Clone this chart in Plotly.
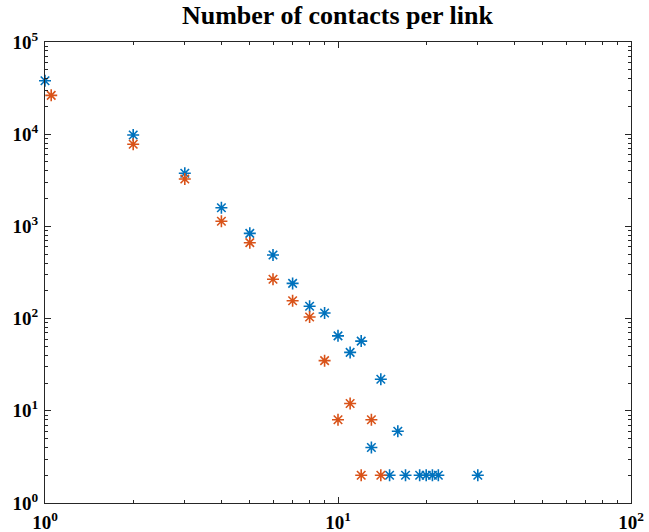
import plotly.graph_objects as go

# Series A (blue)
blue_x = [1, 2, 3, 4, 5, 6, 7, 8, 9, 10, 11, 12, 13, 14, 15, 16, 17, 19, 20, 21, 22, 30]
blue_y = [38000, 9800, 3770, 1595, 841, 490, 241, 136, 115, 65, 43, 57, 4, 22, 2, 6, 2, 2, 2, 2, 2, 2]

# Series B (orange)
orange_x = [1.05, 2, 3, 4, 5, 6, 7, 8, 9, 10, 11, 12, 13, 14]
orange_y = [26400, 7770, 3270, 1136, 666, 267, 156, 104, 35, 8, 12, 2, 8, 2]

title_text = "Number of contacts per link"

# Tick labels (powers of ten)
x_exponents = [0, 1, 2]
y_exponents = [0, 1, 2, 3, 4, 5]
x_tickvals = [10 ** e for e in x_exponents]
x_ticktext = ["10<sup>%d</sup>" % e for e in x_exponents]
y_tickvals = [10 ** e for e in y_exponents]
y_ticktext = ["10<sup>%d</sup>" % e for e in y_exponents]

font_family = "Liberation Serif, Times New Roman, serif"

fig = go.Figure()
fig.add_trace(go.Scatter(
    x=blue_x, y=blue_y, mode="markers", cliponaxis=False,
    marker=dict(symbol="asterisk-open", size=10, color="#0072BD",
                line=dict(color="#0072BD", width=1.6)),
    showlegend=False))
fig.add_trace(go.Scatter(
    x=orange_x, y=orange_y, mode="markers", cliponaxis=False,
    marker=dict(symbol="asterisk-open", size=10, color="#D95319",
                line=dict(color="#D95319", width=1.6)),
    showlegend=False))

axis_common = dict(
    type="log", showgrid=False, zeroline=False, automargin=False,
    showline=True, linecolor="#262626", linewidth=1.2, mirror="ticks",
    ticks="inside", ticklen=6, tickwidth=1, tickcolor="#262626",
    tickfont=dict(family=font_family, size=19, color="#000000", weight="bold"),
    minor=dict(ticks="inside", ticklen=3, tickwidth=1, tickcolor="#262626", dtick="D1"),
)

fig.update_layout(
    width=649, height=532,
    paper_bgcolor="white", plot_bgcolor="white",
    margin=dict(l=45, r=18, t=42, b=29),
    title=dict(text=title_text, x=0.52, xanchor="center", y=0.99, yanchor="top",
               font=dict(family=font_family, size=26, color="#000000", weight="bold")),
    xaxis=dict(range=[0, 2], tickmode="array", tickvals=x_tickvals, ticktext=x_ticktext,
               ticklabelstandoff=2, **axis_common),
    yaxis=dict(range=[0, 5], tickmode="array", tickvals=y_tickvals, ticktext=y_ticktext,
               ticklabelstandoff=2, **axis_common),
)

fig.write_html("out.html")
